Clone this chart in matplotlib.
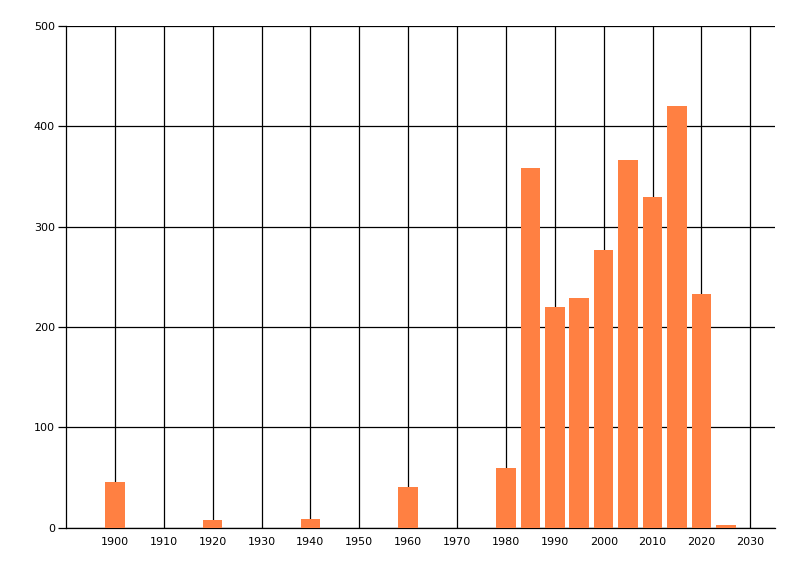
import matplotlib
matplotlib.use("Agg")
import matplotlib.pyplot as plt

# years and counts
years = [1900, 1920, 1940, 1960, 1980, 1985, 1990, 1995, 2000, 2005, 2010, 2015, 2020, 2025]
counts = [45, 7, 8, 40, 59, 358, 220, 229, 277, 366, 329, 420, 233, 2]

x_ticks = list(range(1900, 2031, 10))
y_ticks = [0, 100, 200, 300, 400, 500]

bar_color = "#FF8042"

fig = plt.figure(figsize=(8, 5.76), dpi=100)
ax = fig.add_axes([0.0825, 0.0842, 0.886, 0.8707])

ax.bar(years, counts, width=4, color=bar_color, zorder=3)

ax.set_xlim(1890, 2035)
ax.set_ylim(0, 500)
ax.set_xticks(x_ticks)
ax.set_yticks(y_ticks)

ax.grid(True, color="black", linewidth=0.9, zorder=0)
ax.set_axisbelow(True)

for side in ["top", "right"]:
    ax.spines[side].set_visible(False)
for side in ["left", "bottom"]:
    ax.spines[side].set_linewidth(0.9)

ax.tick_params(axis="x", length=0, pad=7, labelsize=8)
ax.tick_params(axis="y", length=6, width=0.9, pad=2, labelsize=8)

fig.savefig("out.png", dpi=100)
